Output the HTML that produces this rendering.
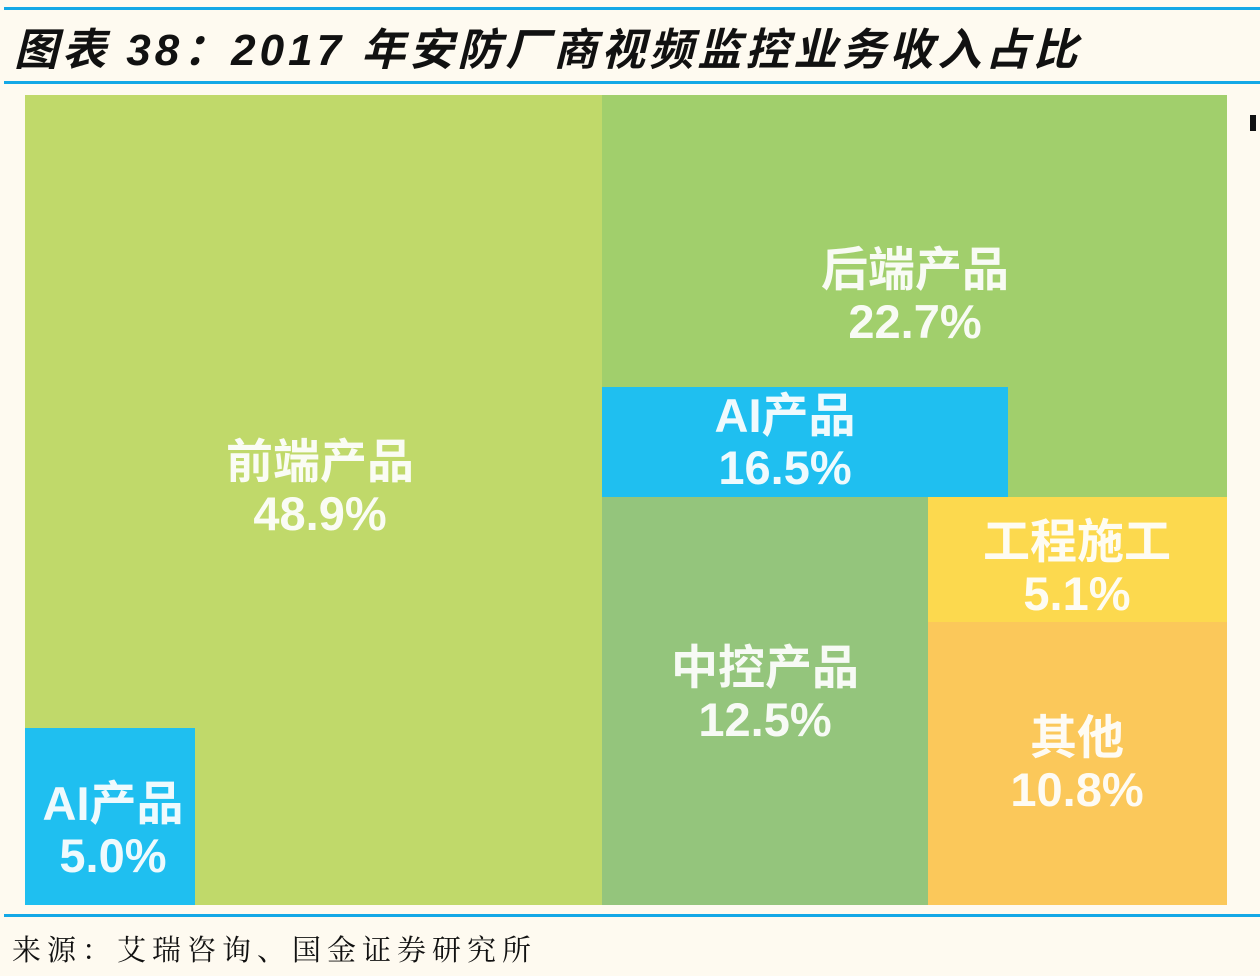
<!DOCTYPE html>
<html><head><meta charset="utf-8"><style>
body{margin:0;width:1260px;height:976px;background:#fefaf0;position:relative;overflow:hidden;font-family:"Liberation Sans","Noto Sans CJK SC",sans-serif}
.l{position:absolute;left:4px;width:1256px;height:3px;background:#14a8e6}
.r{position:absolute}
.t{position:absolute;color:#fff;font-weight:bold;text-align:center;font-size:47px;line-height:52px;opacity:.93}
</style></head><body>
<div class="l" style="top:7px"></div>
<div style="position:absolute;left:14px;top:14px;font-size:44px;letter-spacing:4px;font-weight:bold;font-style:italic;color:#111;white-space:nowrap">图表 38：2017 年安防厂商视频监控业务收入占比</div>
<div class="l" style="top:81px"></div>
<div class="r" style="left:25px;top:95px;width:577px;height:810px;background:#c0d96a"></div>
<div class="r" style="left:25px;top:728px;width:170px;height:177px;background:#1fbff0"></div>
<div class="r" style="left:602px;top:95px;width:625px;height:402px;background:#a1cf6c"></div>
<div class="r" style="left:602px;top:387px;width:406px;height:110px;background:#1fbff0"></div>
<div class="r" style="left:602px;top:497px;width:326px;height:408px;background:#94c57c"></div>
<div class="r" style="left:928px;top:497px;width:299px;height:125px;background:#fcd94e"></div>
<div class="r" style="left:928px;top:622px;width:299px;height:283px;background:#fbc85a"></div>
<div class="r" style="left:1250px;top:115px;width:6px;height:16px;background:#111"></div>
<div class="t" style="left:170px;top:436px;width:300px">前端产品<br>48.9%</div>
<div class="t" style="left:765px;top:244px;width:300px">后端产品<br>22.7%</div>
<div class="t" style="left:635px;top:390px;width:300px">AI产品<br>16.5%</div>
<div class="t" style="left:615px;top:642px;width:300px">中控产品<br>12.5%</div>
<div class="t" style="left:927px;top:516px;width:300px">工程施工<br>5.1%</div>
<div class="t" style="left:927px;top:712px;width:300px">其他<br>10.8%</div>
<div class="t" style="left:-37px;top:778px;width:300px">AI产品<br>5.0%</div>
<div class="l" style="top:914px"></div>
<div style="position:absolute;left:12px;top:928px;font-size:29px;letter-spacing:6px;color:#111;font-family:'Noto Serif CJK SC',serif;white-space:nowrap">来源：艾瑞咨询、国金证券研究所</div>
</body></html>
